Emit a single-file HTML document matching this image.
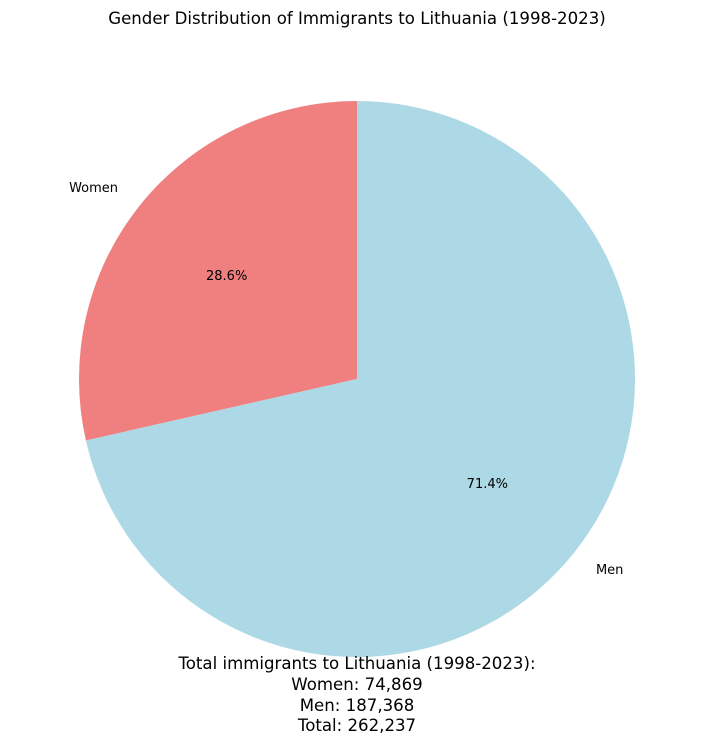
<!DOCTYPE html>
<html><head><meta charset="utf-8">
<style>
body{margin:0;background:#fff;}
svg{display:block;font-family:"DejaVu Sans","Liberation Sans",sans-serif;}
</style></head>
<body>
<svg id="chart" width="714" height="745" viewBox="0 0 714 745">
<text x="357" y="24" text-anchor="middle" font-size="16.6">Gender Distribution of Immigrants to Lithuania (1998-2023)</text>
<g id="slices"></g>
<g font-size="16.6" text-anchor="middle">
<text x="357" y="669">Total immigrants to Lithuania (1998-2023):</text>
<text x="357" y="690">Women: 74,869</text>
<text x="357" y="711">Men: 187,368</text>
<text x="357" y="731">Total: 262,237</text>
</g>
</svg>
<script>
const categories = ["Women", "Men"];
const values = [74869, 187368];
const colors = ["#f08080", "#add8e6"];
const cx = 357, cy = 379, R = 278;
const g = document.getElementById('slices');
const ns = 'http://www.w3.org/2000/svg';
const total = values.reduce((a, b) => a + b, 0);
let start = 90;
function pt(angle, r) { const a = angle * Math.PI / 180; return [cx + r * Math.cos(a), cy - r * Math.sin(a)]; }
values.forEach((v, i) => {
  const sweep = v / total * 360;
  const end = start + sweep;
  const [x1, y1] = pt(start, R), [x2, y2] = pt(end, R);
  const large = sweep > 180 ? 1 : 0;
  const p = document.createElementNS(ns, 'path');
  p.setAttribute('d', `M${cx},${cy} L${x1},${y1} A${R},${R} 0 ${large} 0 ${x2},${y2} Z`);
  p.setAttribute('fill', colors[i]);
  
  
  g.appendChild(p);
  const mid = start + sweep / 2;
  const [lx, ly] = pt(mid, R * 1.1);
  const t = document.createElementNS(ns, 'text');
  t.setAttribute('x', lx); t.setAttribute('y', ly + 4);
  t.setAttribute('font-size', '13');
  t.setAttribute('text-anchor', Math.cos(mid * Math.PI / 180) < 0 ? 'end' : 'start');
  t.textContent = categories[i];
  
  
  g.appendChild(t);
  const [px, py] = pt(mid, R * 0.6);
  const pc = document.createElementNS(ns, 'text');
  pc.setAttribute('x', px); pc.setAttribute('y', py + 5);
  pc.setAttribute('font-size', '13');
  pc.setAttribute('text-anchor', 'middle');
  pc.textContent = (v / total * 100).toFixed(1) + '%';
  
  
  g.appendChild(pc);
  start = end;
});
</script>
</body></html>
